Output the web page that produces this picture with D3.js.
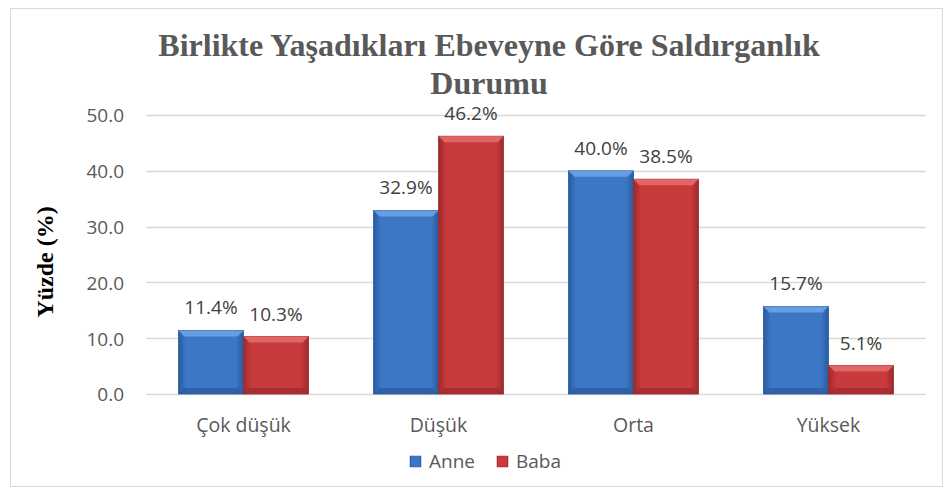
<!DOCTYPE html>
<html><head><meta charset="utf-8">
<script src="https://cdn.jsdelivr.net/npm/d3@7"></script>
<style>body{margin:0;background:#fff}</style>
</head><body>
<svg id="c" width="949" height="493"></svg>
<script>
const categories = ["Çok düşük", "Düşük", "Orta", "Yüksek"];
const seriesNames = ["Anne", "Baba"];
const anne = [11.4, 32.9, 40.0, 15.7];
const baba = [10.3, 46.2, 38.5, 5.1];
const yTicks = [0, 10, 20, 30, 40, 50];
const title = ["Birlikte Yaşadıkları Ebeveyne Göre Saldırganlık", "Durumu"];
const yTitle = "Yüzde (%)";

const SANS = "'Open Sans', sans-serif";
const SERIF = "'Liberation Serif', serif";
const svg = d3.select("#c");
const W = 949, H = 493;
const m = {l: 146, r: 23, t: 115, b: 99};
const pw = W - m.l - m.r, ph = H - m.t - m.b;

svg.append("rect").attr("x", 10.5).attr("y", 8.5).attr("width", 932).attr("height", 478)
  .attr("fill", "#fff").attr("stroke", "#d9d9d9");

const defs = svg.append("defs");
const cols = [{id: "gA", c: "#3c77c6", d: "#2a5a9e", l: "#6aa2e6"}, {id: "gB", c: "#c73b3d", d: "#9c2a2c", l: "#e46a6a"}];
cols.forEach(o => {
  const g = defs.append("linearGradient").attr("id", o.id).attr("x1", 0).attr("x2", 1).attr("y1", 0).attr("y2", 0);
  g.append("stop").attr("offset", "0%").attr("stop-color", o.d);
  g.append("stop").attr("offset", "12%").attr("stop-color", o.c);
  g.append("stop").attr("offset", "88%").attr("stop-color", o.c);
  g.append("stop").attr("offset", "100%").attr("stop-color", o.d);
});

const x = d3.scaleBand().domain(categories).range([m.l, m.l + pw]).paddingInner(0.333).paddingOuter(0.1665);
const x1 = d3.scaleBand().domain(seriesNames).range([0, x.bandwidth()]);
const y = d3.scaleLinear().domain([0, 50]).range([m.t + ph, m.t]);

// gridlines
svg.append("g").selectAll("line").data(yTicks).join("line")
  .attr("x1", m.l).attr("x2", m.l + pw)
  .attr("y1", d => Math.round(y(d)) + 0.5).attr("y2", d => Math.round(y(d)) + 0.5)
  .attr("stroke", "#d9d9d9").attr("stroke-width", 1.3);

// y axis labels
const yAxis = d3.axisLeft(y).tickValues(yTicks).tickFormat(d3.format(".1f")).tickSize(0).tickPadding(0);
const ga = svg.append("g").attr("transform", `translate(${m.l - 22},0)`).call(yAxis);
ga.select(".domain").remove();
ga.selectAll("text").attr("font-family", SANS).attr("font-size", 19).attr("fill", "#595959").attr("dy", "0.36em");

// x axis labels
const xAxis = d3.axisBottom(x).tickSize(0).tickPadding(0);
const gx = svg.append("g").attr("transform", `translate(0,${m.t + ph + 38})`).call(xAxis);
gx.select(".domain").remove();
gx.selectAll("text").attr("font-family", SANS).attr("font-size", 19.5).attr("fill", "#595959").attr("dy", 0);

const data = [anne, baba];
seriesNames.forEach((s, si) => {
  const g = svg.append("g");
  const vals = data[si];
  const bx = (d, i) => x(categories[i]) + x1(s);
  const bw = x1.bandwidth();
  g.selectAll("rect.bar").data(vals).join("rect").attr("class", "bar")
    .attr("x", bx).attr("y", d => y(d)).attr("width", bw).attr("height", d => y(0) - y(d))
    .attr("fill", `url(#${cols[si].id})`).attr("stroke", cols[si].d).attr("stroke-width", 0.8);
  const bev = 6;
  g.selectAll("path.bev").data(vals).join("path").attr("class", "bev")
    .attr("d", (d, i) => {
      const x0 = bx(d, i), y0 = y(d);
      return `M${x0},${y0} L${x0 + bw},${y0} L${x0 + bw - bev},${y0 + bev} L${x0 + bev},${y0 + bev} Z`;
    }).attr("fill", cols[si].l).attr("opacity", 0.9);
  g.selectAll("path.bevb").data(vals).join("path").attr("class", "bevb")
    .attr("d", (d, i) => {
      const x0 = bx(d, i), y0 = y(0);
      return `M${x0},${y0} L${x0 + bw},${y0} L${x0 + bw - bev},${y0 - bev} L${x0 + bev},${y0 - bev} Z`;
    }).attr("fill", cols[si].d).attr("opacity", 0.7);
  g.selectAll("text").data(vals).join("text")
    .attr("x", (d, i) => bx(d, i) + bw / 2).attr("y", d => y(d) - 16)
    .attr("text-anchor", "middle")
    .attr("font-family", SANS).attr("font-size", 19).attr("fill", "#404040")
    .text(d => d3.format(".1f")(d) + "%");
});

// title
svg.append("g").selectAll("text").data(title).join("text")
  .attr("x", 489).attr("y", (d, i) => 56 + i * 38).attr("text-anchor", "middle")
  .attr("font-family", SERIF).attr("font-weight", "bold")
  .attr("font-size", 32).attr("fill", "#595959").text(d => d);

// y title
svg.append("text").attr("transform", `translate(53,${262}) rotate(-90)`).attr("text-anchor", "middle")
  .attr("font-family", SERIF).attr("font-weight", "bold")
  .attr("font-size", 24).attr("fill", "#000").text(yTitle);

// legend
const lg = svg.append("g");
const lx = [410, 497];
seriesNames.forEach((s, i) => {
  lg.append("rect").attr("x", lx[i]).attr("y", 456).attr("width", 11).attr("height", 11)
    .attr("fill", `url(#${cols[i].id})`).attr("stroke", cols[i].d).attr("stroke-width", 0.5);
  lg.append("text").attr("x", lx[i] + 19).attr("y", 468)
    .attr("font-family", SANS).attr("font-size", 19).attr("fill", "#595959").text(s);
});
</script>
</body></html>
